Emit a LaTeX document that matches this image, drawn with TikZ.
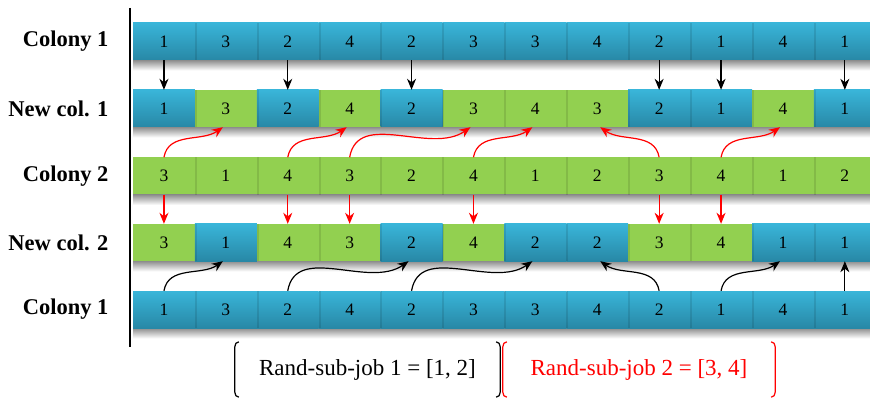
\documentclass[tikz,border=0pt]{standalone}
\usepackage{fontspec}
\setmainfont{Liberation Serif}
\usetikzlibrary{arrows.meta}
\definecolor{cellblue}{RGB}{57,181,217}
\definecolor{cellbluedk}{RGB}{40,136,166}
\definecolor{cellgreen}{RGB}{146,208,80}
\tikzset{
    cell/.style={minimum width=61.9pt,minimum height=37pt,inner sep=0pt,font=\fontsize{17.5}{20}\selectfont},
    bluecell/.style={cell,top color=cellblue,bottom color=cellbluedk},
    greencell/.style={cell,fill=cellgreen},
    rowlabel/.style={anchor=east,font=\fontsize{22.5}{26}\selectfont\bfseries},
    blackarr/.style={-{Stealth[length=11pt,width=9pt,inset=3.5pt]},line width=1.2pt},
    redarr/.style={blackarr,red},
    jobbox/.style={minimum height=55pt,inner sep=0pt,font=\fontsize{23}{27}\selectfont},
    bracket/.style={line width=1.2pt}
}

\begin{document}
\begin{tikzpicture}[x=1pt,y=-1pt]
                \useasboundingbox (0,0) rectangle (870,398);

                % Shadows under the rows
                \foreach \y in {41.5,108.5,176,242.5,309.5}
                    \shade[top color=black!45,bottom color=white] (133,\y+18.5) rectangle (876,\y+29);

                % Rows
                \foreach \v [count=\i] in {1,3,2,4,2,3,3,4,2,1,4,1}
                    \node[bluecell] (ca-\i) at ({133+61.9*(\i-0.5)},41.5) {\v};
                \foreach \v/\s [count=\i] in {1/bluecell,3/greencell,2/bluecell,4/greencell,2/bluecell,3/greencell,4/greencell,3/greencell,2/bluecell,1/bluecell,4/greencell,1/bluecell}
                    \node[\s] (na-\i) at ({133+61.9*(\i-0.5)},108.5) {\v};
                \foreach \v [count=\i] in {3,1,4,3,2,4,1,2,3,4,1,2}
                    \node[greencell] (cb-\i) at ({133+61.9*(\i-0.5)},176) {\v};
                \foreach \v/\s [count=\i] in {3/greencell,1/bluecell,4/greencell,3/greencell,2/bluecell,4/greencell,2/bluecell,2/bluecell,3/greencell,4/greencell,1/bluecell,1/bluecell}
                    \node[\s] (nb-\i) at ({133+61.9*(\i-0.5)},242.5) {\v};
                \foreach \v [count=\i] in {1,3,2,4,2,3,3,4,2,1,4,1}
                    \node[bluecell] (cc-\i) at ({133+61.9*(\i-0.5)},309.5) {\v};

                % cell edges
                \foreach \r in {ca,na,cb,nb,cc}
                    \foreach \i in {2,...,12}
                        \fill[black,opacity=0.1] (\r-\i.north west) rectangle ([xshift=2pt]\r-\i.south west);

                \draw[line width=1.3pt] (130,8) -- (130,347);

                % Arrows
                \foreach \i in {1,3,5,9,10,12}
                    \draw[blackarr] (ca-\i.south) -- (na-\i.north);
                \foreach \i in {1,3,4,6,9,10}
                    \draw[redarr] (cb-\i.south) -- (nb-\i.north);

                \foreach \a/\b in {1/2,3/4,4/6,6/7,10/11}
                    \draw[redarr] (cb-\a.north) to[out=80,in=-145] ([xshift=-3pt]na-\b.south);
                \draw[redarr] (cb-9.north) to[out=100,in=-35] ([xshift=3pt]na-8.south);

                \foreach \a/\b in {1/2,3/5,5/7,10/11}
                    \draw[blackarr] (cc-\a.north) to[out=80,in=-145] ([xshift=-3pt]nb-\b.south);
                \draw[blackarr] (cc-9.north) to[out=100,in=-35] ([xshift=3pt]nb-8.south);
                \draw[blackarr] (cc-12.north) -- (nb-12.south);

                % Labels
                \node[rowlabel] (lab-ca) at (112,41.5) {Colony 1};
                \node[rowlabel] (lab-na) at (112,108.5) {New col. 1};
                \node[rowlabel] (lab-cb) at (112,176) {Colony 2};
                \node[rowlabel] (lab-nb) at (112,242.5) {New col. 2};
                \node[rowlabel] (lab-cc) at (112,309.5) {Colony 1};

                % Sub-jobs
                \node[jobbox,minimum width=265pt] (job1) at (367.5,369.5) {Rand-sub-job 1 = [1, 2]};
                \node[jobbox,minimum width=272pt,text=red] (job2) at (639,369.5) {Rand-sub-job 2 = [3, 4]};

                \draw[bracket] ([xshift=4pt]job1.north west) to[out=180,in=90] ([yshift=-5pt]job1.north west)
                    -- ([yshift=5pt]job1.south west) to[out=-90,in=180] ([xshift=4pt]job1.south west);
                \draw[bracket] ([xshift=-4pt]job1.north east) to[out=0,in=90] ([yshift=-5pt]job1.north east)
                    -- ([yshift=5pt]job1.south east) to[out=-90,in=0] ([xshift=-4pt]job1.south east);
                \draw[bracket,red] ([xshift=4pt]job2.north west) to[out=180,in=90] ([yshift=-5pt]job2.north west)
                    -- ([yshift=5pt]job2.south west) to[out=-90,in=180] ([xshift=4pt]job2.south west);
                \draw[bracket,red] ([xshift=-4pt]job2.north east) to[out=0,in=90] ([yshift=-5pt]job2.north east)
                    -- ([yshift=5pt]job2.south east) to[out=-90,in=0] ([xshift=-4pt]job2.south east);
\end{tikzpicture}
\end{document}
